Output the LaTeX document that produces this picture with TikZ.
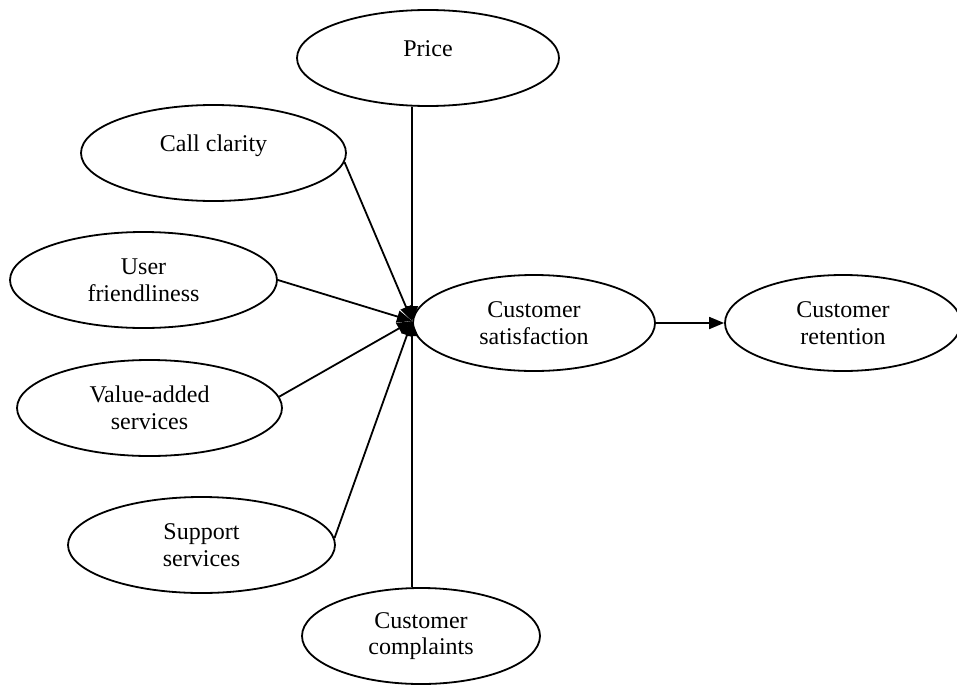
\documentclass[tikz,border=0pt]{standalone}
\usepackage{fontspec}
\setmainfont{Liberation Serif}
\usetikzlibrary{shapes.geometric,arrows.meta}
\begin{document}
\begin{tikzpicture}[x=0.5pt, y=-0.5pt,
  factor/.style={shape=ellipse, draw=black, line width=0.9pt, fill=white,
    inner sep=0pt, align=center, minimum height=48pt,
    font=\fontsize{12}{13.3}\selectfont},
  oneline/.style={text height=8pt, text depth=10pt},
  tip/.style={line width=0.9pt, -{Triangle[length=7.5pt, width=6pt]}}]
        % satisfaction model
\useasboundingbox (0,0) rectangle (957,685);

\node[factor, oneline, minimum width=131pt] at (428, 58)
(price) {Price};

\node[factor, oneline, minimum width=132.5pt] at (213.5, 153)
(call) {Call clarity};

\node[factor, minimum width=133.5pt] at (143.5, 280)
(user) {User\\friendliness};

\node[factor, minimum width=132.5pt] at (149.5, 408)
(value) {Value-added\\services};

\node[factor, minimum width=133.5pt] at (201.5, 545)
(support) {Support\\services};

\node[factor, minimum width=121pt] at (534, 323)
(sat) {Customer\\satisfaction};

\node[factor, minimum width=118pt] at (843, 323)
(ret) {Customer\\retention};

\node[factor, minimum width=119pt] at (421, 636)
(compl) {Customer\\complaints};

\coordinate (conv) at (412, 321);

\draw
  (price.south -| conv) edge[tip] (conv)
  (call.-4)             edge[tip] (conv)
  (user.east)           edge[tip] (conv)
  (value.5)             edge[tip] (conv)
  (support.3)           edge[tip] (conv)
  (compl.north -| conv) edge[tip] (conv)
  (sat.east)            edge[tip] (ret.west)
;
      \end{tikzpicture}
\end{document}
